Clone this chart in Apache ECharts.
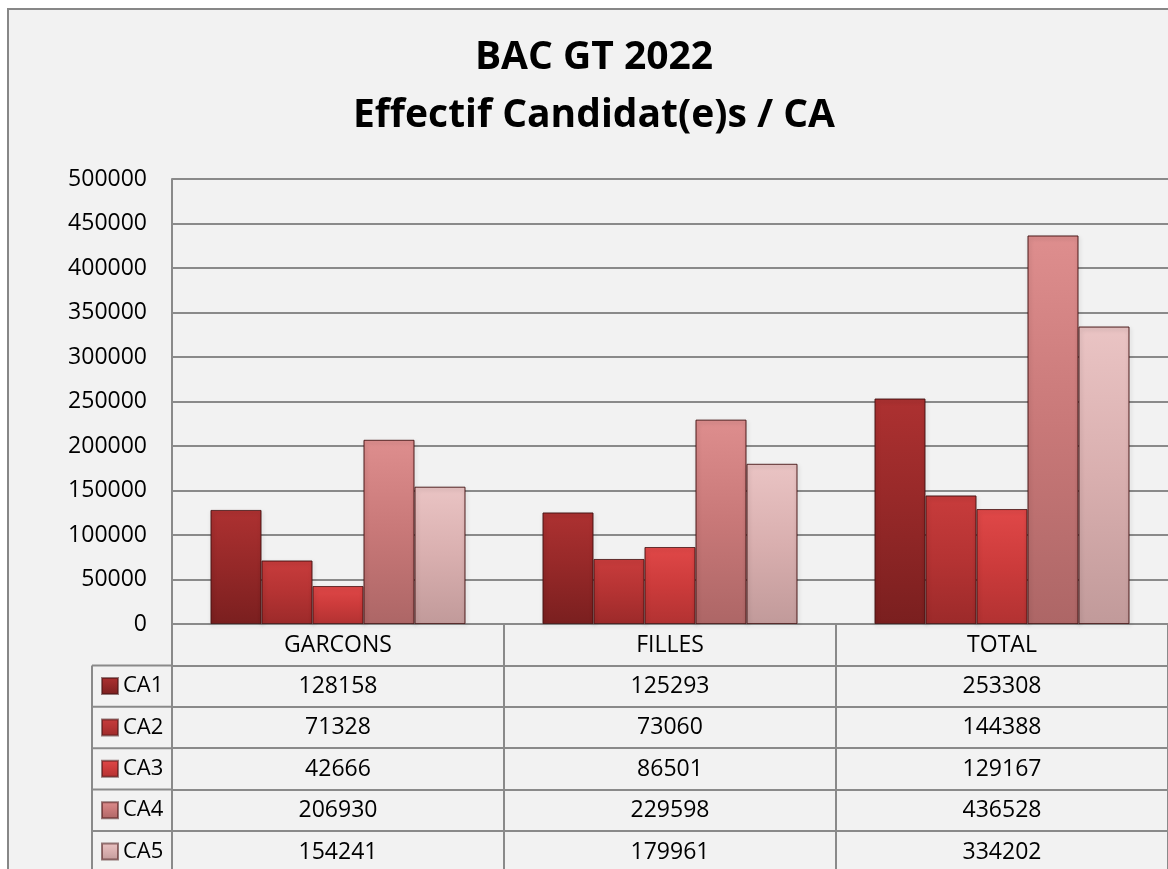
<!DOCTYPE html>
<html><head><meta charset="utf-8">
<script src="https://cdn.jsdelivr.net/npm/echarts@6/dist/echarts.min.js"></script>
<style>html,body{margin:0;padding:0;background:#fff}#c{width:1168px;height:869px}</style>
</head><body><div id="c"></div>
<script>
// ---- data ----
const categories = ['GARCONS', 'FILLES', 'TOTAL'];
const seriesNames = ['CA1', 'CA2', 'CA3', 'CA4', 'CA5'];
const CA1 = [128158, 125293, 253308];
const CA2 = [71328, 73060, 144388];
const CA3 = [42666, 86501, 129167];
const CA4 = [206930, 229598, 436528];
const CA5 = [154241, 179961, 334202];
const yMin = 0, yMax = 500000, yInterval = 50000;
const titleLines = ['BAC GT 2022', 'Effectif Candidat(e)s / CA'];

// ---- styling ----
const FONT = 'Open Sans';
const FS = 23;
const GRID_C = '#8a8a8a';
const ROW_H = 41.4;
const seriesValues = [CA1, CA2, CA3, CA4, CA5];
const palettes = [
  ['#ad3131', '#952828', '#7a1f1f'],
  ['#c83c3c', '#b53333', '#9c2a2a'],
  ['#e04848', '#cc3b3b', '#b23232'],
  ['#de8e8e', '#c87878', '#ad6666'],
  ['#eac4c4', '#d9afaf', '#c19a9a']
];
function grad(p) {
  return new echarts.graphic.LinearGradient(0, 0, 0, 1, [
    {offset: 0, color: p[0]}, {offset: 0.5, color: p[1]}, {offset: 1, color: p[2]}
  ]);
}

const chart = echarts.init(document.getElementById('c'), null, {renderer: 'canvas'});

const xAxes = [{
  type: 'category', gridIndex: 0, position: 'bottom', data: categories,
  axisLine: {show: true, lineStyle: {color: GRID_C, width: 2}},
  axisTick: {show: true, length: 245, interval: 0, alignWithLabel: false, lineStyle: {color: GRID_C, width: 2}},
  axisLabel: {interval: 0, margin: 10, fontSize: FS, lineHeight: 22, color: '#000', fontFamily: FONT},
  splitLine: {show: false}
}];
seriesValues.forEach(function (vals, k) {
  xAxes.push({
    type: 'category', gridIndex: 0, position: 'bottom', offset: ROW_H * (k + 1), data: categories,
    axisLine: {show: true, lineStyle: {color: GRID_C, width: 2}},
    axisTick: {show: false},
    axisLabel: {interval: 0, margin: 10, fontSize: FS, lineHeight: 22, color: '#000', fontFamily: FONT,
      formatter: function (v, i) { return String(vals[i]); }},
    splitLine: {show: false}
  });
});

const option = {
  backgroundColor: '#ffffff',
  animation: false,
  grid: {left: 172, right: -6, top: 179, bottom: 245, containLabel: false},
  legend: {
    data: seriesNames, orient: 'vertical', left: 101, top: 675, padding: 0,
    itemWidth: 16, itemHeight: 16, itemGap: ROW_H - 22, icon: 'rect', selectedMode: false,
    textStyle: {fontSize: 22, lineHeight: 22, color: '#000', fontFamily: FONT}
  },
  xAxis: xAxes,
  yAxis: {
    type: 'value', min: yMin, max: yMax, interval: yInterval,
    axisLine: {show: true, lineStyle: {color: GRID_C, width: 2}},
    axisTick: {show: false},
    axisLabel: {margin: 25, fontSize: FS, color: '#000', fontFamily: FONT,
      formatter: function (v) { return String(v); }},
    splitLine: {show: true, lineStyle: {color: GRID_C, width: 2}}
  },
  series: seriesNames.map(function (name, i) {
    return {
      name: name, type: 'bar', xAxisIndex: 0, yAxisIndex: 0,
      data: seriesValues[i], barWidth: 51, barGap: '0%',
      itemStyle: {color: grad(palettes[i]), borderColor: 'rgba(70,20,20,0.55)', borderWidth: 1,
        shadowBlur: 4, shadowColor: 'rgba(0,0,0,0.3)', shadowOffsetX: 1, shadowOffsetY: 2}
    };
  })
};
chart.setOption(option);

// table frame (legend column) and title, placed from the axes' pixel positions
const y0 = chart.convertToPixel({yAxisIndex: 0}, 0);
const xLeft = chart.convertToPixel({xAxisIndex: 0}, 0) - (chart.convertToPixel({xAxisIndex: 0}, 1) - chart.convertToPixel({xAxisIndex: 0}, 0)) / 2;
const legendLeft = 92;
const elements = [{
  type: 'rect', z: -10, silent: true,
  shape: {x: 8, y: 9, width: 1300, height: 1000},
  style: {fill: '#f2f2f2', stroke: '#878787', lineWidth: 2}
}, {
  type: 'line', z: 5, silent: true,
  shape: {x1: legendLeft, y1: y0 + ROW_H, x2: legendLeft, y2: 900},
  style: {stroke: GRID_C, lineWidth: 2}
}];
for (let k = 1; k <= seriesValues.length; k++) {
  elements.push({
    type: 'line', z: 5, silent: true,
    shape: {x1: legendLeft, y1: y0 + ROW_H * k, x2: xLeft, y2: y0 + ROW_H * k},
    style: {stroke: GRID_C, lineWidth: 2}
  });
}
elements.push({
  type: 'text', z: 5, silent: true,
  style: {text: titleLines.join('\n'), x: 594, y: 29, textAlign: 'center', textVerticalAlign: 'top',
    fontSize: 39, fontWeight: 'bold', lineHeight: 58, fontFamily: FONT, fill: '#000'}
});
chart.setOption({graphic: elements});
</script>
</body></html>
